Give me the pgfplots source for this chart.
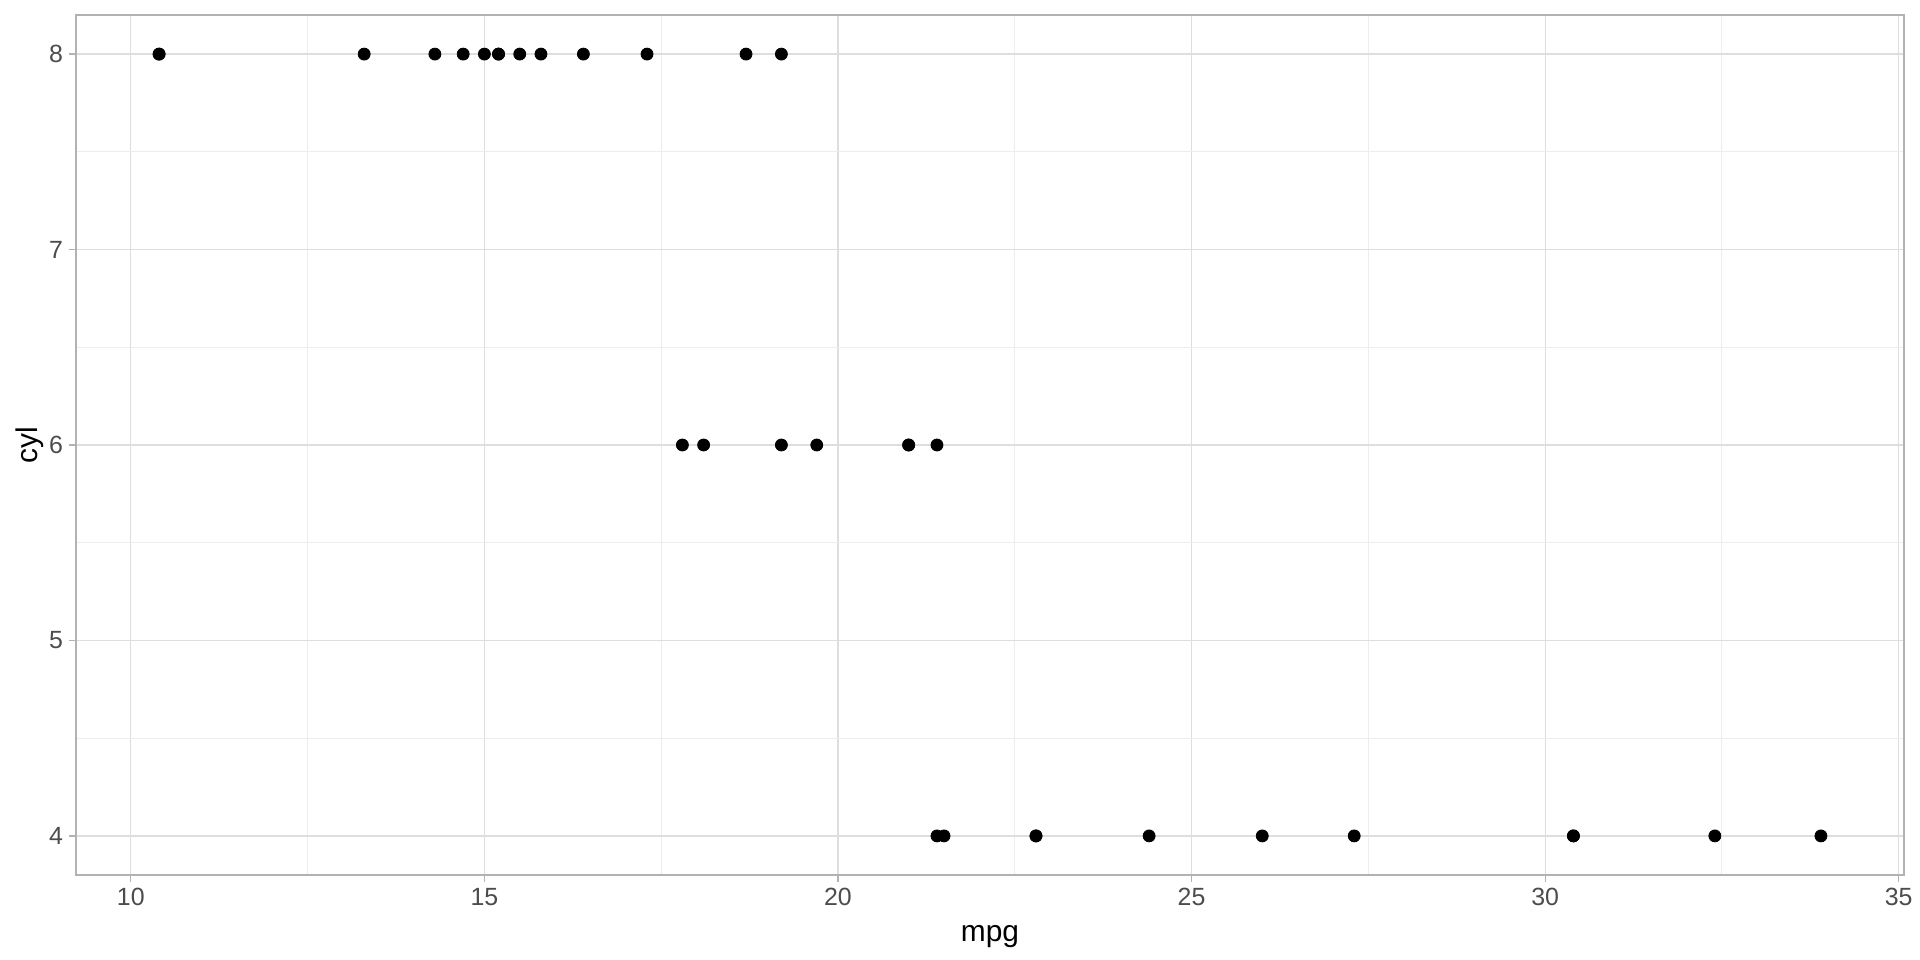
\documentclass[border=0pt]{standalone}
\usepackage{pgfplots}
\pgfplotsset{compat=1.18}
\usepackage{fontspec}
\setmainfont{Liberation Sans}
\definecolor{gridmaj}{gray}{0.87}
\definecolor{gridmin}{gray}{0.93}
\definecolor{frame}{gray}{0.70}
\definecolor{ticktext}{gray}{0.30}
\begin{document}
\begin{tikzpicture}
\path[use as bounding box] (0,0) rectangle (960bp,480bp);
\begin{axis}[
  at={(38bp,42.5bp)}, anchor=south west,
  scale only axis,
  width=914bp, height=430bp,
  xmin=9.225, xmax=35.075,
  ymin=3.8, ymax=8.2,
  xtick={10,15,20,25,30,35},
  ytick={4,5,6,7,8},
  minor xtick={12.5,17.5,22.5,27.5,32.5},
  minor ytick={4.5,5.5,6.5,7.5},
  grid=both,
  major grid style={draw=gridmaj, line width=0.6bp},
  minor grid style={draw=gridmin, line width=0.5bp},
  axis line style={draw=frame, line width=0.7bp},
  tick style={draw=frame, line width=0.6bp},
  major tick length=3.5bp,
  minor tick length=0pt,
  tick align=outside,
  xtick pos=bottom, ytick pos=left,
  tick label style={font=\fontsize{12.5}{14}\selectfont, text=ticktext},
  /pgf/number format/assume math mode=true,
  xticklabel style={yshift=0.5bp},
  yticklabel style={xshift=0.5bp},
  xlabel={mpg}, ylabel={cyl},
  label style={font=\fontsize{15}{17}\selectfont},
  xlabel style={at={(axis description cs:0.5,0)}, anchor=center, yshift=-31bp},
  ylabel style={at={(axis description cs:0,0.5)}, anchor=center, rotate=0, yshift=23bp},
]
\addplot[only marks, mark=*, mark size=3bp, mark options={fill=black, draw=black}] coordinates {
  (21.0,6)(21.0,6)(22.8,4)(21.4,6)(18.7,8)(18.1,6)(14.3,8)(24.4,4)
  (22.8,4)(19.2,6)(17.8,6)(16.4,8)(17.3,8)(15.2,8)(10.4,8)(10.4,8)
  (14.7,8)(32.4,4)(30.4,4)(33.9,4)(21.5,4)(15.5,8)(15.2,8)(13.3,8)
  (19.2,8)(27.3,4)(26.0,4)(30.4,4)(15.8,8)(19.7,6)(15.0,8)(21.4,4)
};
\end{axis}
\end{tikzpicture}
\end{document}
